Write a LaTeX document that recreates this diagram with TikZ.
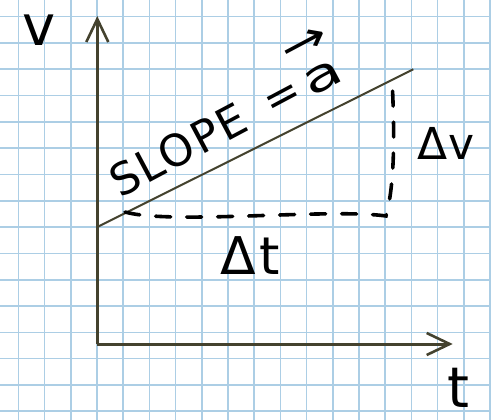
\documentclass[tikz,border=0pt]{standalone}
\usepackage{fontspec}
\setmainfont{DejaVu Sans}
\usetikzlibrary{arrows.meta}
\definecolor{gridblue}{RGB}{172,206,229}
\definecolor{axiscol}{RGB}{68,66,46}
\newcommand\avec{\leavevmode\rlap{\kern-0.1em\raisebox{0.85em}{\scalebox{1.3}[1]{→}}}\scalebox{1.45}[1]{a}}
\begin{document}
\begin{tikzpicture}[x=1pt,y=-1pt,
  gridline/.style={draw=gridblue,line width=1.6pt},
  axisline/.style={draw=axiscol,line width=3pt,-{Straight Barb[length=23pt,width=22pt,line width=2.6pt]}},
  slopeline/.style={draw=axiscol,line width=2pt},
  dashline/.style={draw=black,line width=3.6pt,line cap=round,dash pattern=on 15pt off 16pt},
  hand/.style={text=black,inner sep=0pt,font=\fontsize{#1}{#1}\selectfont},
]
\useasboundingbox (0,0) rectangle (491,420);
\fill[white] (0,0) rectangle (491,420);
\foreach \i in {0,...,18} \draw[gridline] ({18.3+26.2*\i},0) -- ({18.3+26.2*\i},420);
\foreach \j in {0,...,15} \draw[gridline] (0,{16.7+26.3*\j}) -- (491,{16.7+26.3*\j});

\coordinate (O) at (97.3,344);
\coordinate (vtip) at (97.3,16);
\coordinate (ttip) at (452.7,344);
\coordinate (A) at (97.3,227);
\coordinate (B) at (413.3,69.3);
\coordinate (d1) at (125,212);
\coordinate (d2) at (386,216);
\coordinate (d3) at (392,78);

\draw[axisline] (O) -- (vtip);
\draw[axisline] (O) -- (ttip);
\draw[slopeline] (A) -- (B);
\draw[dashline] (d1) .. controls (170,225) and (330,208) .. (d2)
  .. controls (396,180) and (394,120) .. (d3);

\node[hand=56] (vlab) at (39,30) {v};
\node[hand=56] (tlab) at (458,388) {t};
\node[hand=44,rotate=28,anchor=base west] (slope) at (120,199)
  {\addfontfeatures{LetterSpace=5}SLOPE\hspace{0.55em}=\hspace{0.15em}\avec};
\node[hand=44] (dv) at (446,143) {Δv};
\node[hand=52] (dt) at (250,256) {\addfontfeatures{LetterSpace=6}Δt};
\end{tikzpicture}
\end{document}
